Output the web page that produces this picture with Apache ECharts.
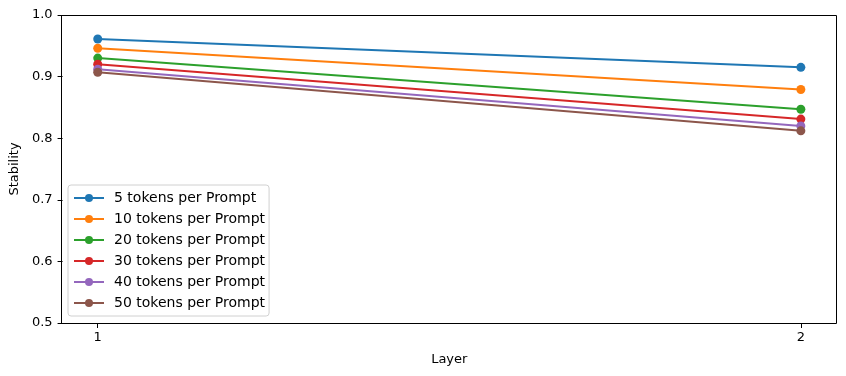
<!DOCTYPE html>
<html><head><meta charset="utf-8">
<script src="https://cdn.jsdelivr.net/npm/echarts@6/dist/echarts.min.js"></script>
<style>html,body{margin:0;padding:0;background:#fff}#c{width:846px;height:376px}</style>
</head><body><div id="c"></div>
<script>
const layers = [1, 2];
const seriesNames = ["5 tokens per Prompt","10 tokens per Prompt","20 tokens per Prompt","30 tokens per Prompt","40 tokens per Prompt","50 tokens per Prompt"];
const s5 = [0.961, 0.915];
const s10 = [0.946, 0.879];
const s20 = [0.930, 0.847];
const s30 = [0.920, 0.831];
const s40 = [0.912, 0.820];
const s50 = [0.907, 0.812];
const yTicks = [0.5, 0.6, 0.7, 0.8, 0.9, 1.0];
const colors = ["#1f77b4","#ff7f0e","#2ca02c","#d62728","#9467bd","#8c564b"];
const allVals = [s5, s10, s20, s30, s40, s50];
const font = "DejaVu Sans";
const chart = echarts.init(document.getElementById('c'), null, {renderer:'canvas'});
chart.setOption({
  animation:false,
  color: colors,
  grid:{left:61,right:10,top:15,bottom:53,containLabel:false},
  xAxis:{type:'value',min:0.95,max:2.05,name:'Layer',nameLocation:'middle',nameGap:30,
    nameTextStyle:{fontFamily:font,fontSize:13,color:'#000'},
    axisLine:{show:false,onZero:false},
    axisTick:{show:true,customValues:layers,length:5,lineStyle:{color:'#000'}},
    axisLabel:{customValues:layers,fontFamily:font,fontSize:13,color:'#000',margin:8,formatter:v=>String(v)},
    splitLine:{show:false}},
  yAxis:{type:'value',min:0.5,max:1.0,interval:0.1,name:'Stability',nameLocation:'middle',nameGap:34,
    nameTextStyle:{fontFamily:font,fontSize:13,color:'#000'},
    axisLine:{show:false},
    axisTick:{show:true,length:5,lineStyle:{color:'#000'}},
    axisLabel:{fontFamily:font,fontSize:13,color:'#000',margin:10,formatter:v=>v.toFixed(1)},
    splitLine:{show:false}},
  legend:{orient:'vertical',left:68,top:185,itemGap:5,itemWidth:30,itemHeight:10,
    padding:[5,4,5,5],backgroundColor:'#fff',borderColor:'#d0d0d0',borderWidth:1,borderRadius:3,
    textStyle:{fontFamily:font,fontSize:14,color:'#000',padding:[0,0,0,5],height:16,lineHeight:16},
    data:seriesNames},
  graphic:[{type:'rect',shape:{x:61.5,y:15.5,width:775,height:308},style:{fill:'none',stroke:'#000',lineWidth:1},silent:true,z:100}],
  series: seriesNames.map((n,i)=>({name:n,type:'line',data:layers.map((x,j)=>[x,allVals[i][j]]),
    symbol:'circle',symbolSize:9,lineStyle:{width:2},itemStyle:{color:colors[i]}}))
});
</script>
</body></html>
